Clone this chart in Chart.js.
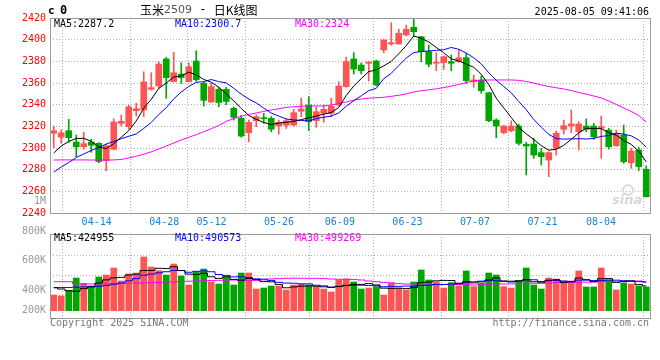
<!DOCTYPE html>
<html><head><meta charset="utf-8">
<script src="https://cdn.jsdelivr.net/npm/chart.js@4.4.1/dist/chart.umd.min.js"></script>
<style>
html,body{margin:0;padding:0;background:#fff;}
#wrap{position:relative;width:660px;height:360px;overflow:hidden;}
canvas{position:absolute;left:0;top:0;}
</style></head><body>
<div id="wrap"><canvas id="main" width="660" height="360"></canvas><canvas id="vol" width="660" height="360"></canvas></div>
<script>
const dates = ["04-10","04-11","04-14","04-15","04-16","04-17","04-18","04-21","04-22","04-23","04-24","04-25","04-28","04-29","04-30","05-06","05-07","05-08","05-09","05-12","05-13","05-14","05-15","05-16","05-19","05-20","05-21","05-22","05-23","05-26","05-27","05-28","05-29","05-30","06-03","06-04","06-05","06-06","06-09","06-10","06-11","06-12","06-13","06-16","06-17","06-18","06-19","06-20","06-23","06-24","06-25","06-26","06-27","06-30","07-01","07-02","07-03","07-04","07-07","07-08","07-09","07-10","07-11","07-14","07-15","07-16","07-17","07-18","07-21","07-22","07-23","07-24","07-25","07-28","07-29","07-30","07-31","08-01","08-04","08-05"];
const tickDates = ["04-14","04-28","05-12","05-26","06-09","06-23","07-07","07-21","08-04"];
const priceTicks = [2240,2260,2280,2300,2320,2340,2360,2380,2400,2420];
const volTickValues = [1000000,800000,600000,400000,200000];
const volTickLabels = ["1M","800K","600K","400K","200K"];

const openP = [2313.6,2310,2316,2305.5,2301.2,2305.5,2304.3,2288.3,2298.8,2322.7,
2319.7,2334.4,2335.1,2354.2,2357.2,2382.2,2361.2,2368.3,2361.2,2380.3,
2359.7,2342.5,2354.2,2354.2,2336.6,2327.5,2314.1,2325.2,2328,2327.4,
2320.3,2321,2321.2,2333.9,2339.7,2325.2,2332,2332,2339.7,2356.6,
2382.2,2376.6,2378.2,2380.3,2390.5,2396,2396,2404.3,2411.4,2402.8,
2388.9,2378.2,2378.8,2379.7,2379.7,2383.4,2361.2,2362.8,2351,2325.8,
2314.1,2316,2320.3,2303.4,2303.7,2295.7,2288.9,2299.7,2317.3,2320.3,
2315,2320.3,2320.3,2318.2,2316.6,2302.1,2312,2286.4,2298.2,2280.3];
const highP = [2320.3,2316.6,2326.5,2312,2314.5,2308,2304.9,2303.4,2327,2330.5,
2339.4,2341.3,2370.4,2369.5,2379.7,2383.7,2388.3,2378.7,2378.7,2389.8,
2361,2359.7,2356,2356,2338,2330,2325.8,2330.5,2332,2329,
2325.8,2327,2335.7,2345.9,2347.4,2338.1,2339.7,2345.9,2361.2,2383.7,
2388,2378.5,2379.7,2381.2,2400.3,2415.7,2409.6,2413.5,2419.7,2403,
2395,2388,2385,2385.8,2390.5,2387.4,2367.4,2366.5,2351.5,2327,
2321,2325,2322,2305.3,2309,2299.7,2296.6,2315.7,2325.8,2335.1,
2324.3,2326.8,2322.8,2329.5,2318.2,2316.6,2321.2,2299.7,2300.6,2283.4];
const lowP = [2300.3,2304.3,2305.3,2292,2298.8,2296,2286.4,2278.8,2298.2,2320.3,
2317.5,2329.5,2328.9,2353.5,2355.1,2345.9,2361,2359.7,2361,2361.5,
2338.8,2341.9,2338,2340,2325.8,2309.9,2305.8,2319.7,2322.8,2315,
2312.8,2318,2320,2328.9,2316,2319.1,2323.7,2328.9,2338.8,2356,
2368.3,2368.3,2361.8,2357.2,2388,2395,2396,2403.4,2402.8,2379.7,
2375,2371.4,2372.6,2371.4,2379,2359.7,2356,2350.5,2324.3,2309.5,
2313,2315,2302.8,2275.1,2290.5,2284.3,2273.5,2293.5,2312.8,2314.1,
2298.2,2315,2308,2290.5,2299,2301.5,2285.9,2281.2,2279.1,2254.7];
const closeP = [2316,2314,2309.5,2301.2,2304,2302.5,2287.5,2302,2324,2324.6,
2338,2336.3,2361,2355.7,2377.5,2365,2369.5,2365,2375,2363,
2344,2356.6,2342,2343,2328.3,2311,2323.7,2328.9,2327,2317.3,
2323.7,2325.2,2332.6,2336,2324.3,2333.5,2335.7,2338.5,2357.2,2379.7,
2372.9,2371.4,2379.4,2358.2,2399.7,2397.2,2405.9,2409.6,2407.4,2388.9,
2377.3,2378.8,2384.3,2378.2,2383.4,2362.1,2362.8,2352.9,2325.2,2320.3,
2320.3,2320.3,2304.3,2301.8,2293.5,2292,2295.7,2313.6,2320.6,2322.2,
2322.2,2317.3,2310.4,2319.7,2301.2,2313.6,2287.4,2297.2,2282.8,2255];

const ma5 = [2295.4,2301.8,2306,2308.8,2309,2306.2,2300.9,2299.4,2304,2310,
2316,2325,2336.8,2345,2355,2360,2365.5,2366.5,2370,2367.5,
2363.3,2360.7,2356.1,2350,2343.5,2336.5,2330,2326.5,2323.5,2321.6,
2323,2323.8,2324.5,2326.2,2327.8,2329.5,2331.2,2332.8,2337.4,2348.5,
2357.2,2364.1,2370.5,2372.2,2375.8,2380,2387,2394.5,2403.4,2401.2,
2397.9,2392.8,2387.8,2382.3,2380.4,2377.4,2374.5,2368,2358.5,2346,
2337,2328.2,2319,2313,2307.8,2302.2,2298,2298.8,2302.5,2308,
2314,2318.2,2318,2317.8,2314.2,2311.8,2306.9,2303.3,2297,2287.2];
const ma10 = [2277.8,2282.5,2286.6,2291.2,2294.5,2297.7,2300.5,2303.7,2306,2308.6,
2310.8,2313,2318.1,2323.6,2330.9,2337.2,2345.4,2351.7,2356.8,2360.6,
2361.2,2363.2,2361.3,2360.1,2355.1,2349.7,2345.2,2341.6,2336.8,2332.2,
2329.5,2326.8,2325.9,2325.4,2325,2327.2,2328.4,2329.4,2332.4,2338.6,
2343.6,2348.2,2352.9,2355.1,2364,2369,2376,2383.1,2388.1,2389.1,
2389.5,2390.2,2390.7,2392.8,2391.1,2387.6,2383.3,2377.6,2369.4,2362.5,
2356.8,2350.9,2342.9,2335.3,2326.3,2319.3,2312.6,2308.7,2308.2,2308.4,
2308.6,2308.3,2308.9,2310.7,2311.5,2313.7,2312.8,2311.2,2307.4,2300.7];
const ma30 = [2288.9,2289,2289,2289,2289,2288.9,2288.9,2288.9,2289,2289.4,
2290.8,2292.4,2294.3,2296.5,2299.1,2301.8,2304.6,2307.4,2309.9,2312.3,
2315,2317.8,2320.8,2324.6,2327.2,2329.3,2330.9,2332.3,2333.8,2335.1,
2336.2,2337.5,2338,2338.5,2338.8,2338.8,2338.8,2339.7,2341.1,2342.5,
2344.3,2345.2,2346,2346.4,2346.8,2347.7,2348.7,2350,2351.7,2352.9,
2353.7,2354.6,2355.8,2357.2,2358.6,2360.4,2361.8,2362.6,2362.8,2362.8,
2362.8,2362.8,2362.5,2361.4,2360,2358.2,2356.8,2355.6,2354.5,2353.1,
2351.2,2349.8,2348,2346.2,2343.4,2340.2,2336.9,2333.7,2330,2324];

const vol = [270000,253000,344000,562000,471000,425000,580000,614000,734000,511000,
631000,648000,924000,752000,688000,614000,803000,597000,442000,666000,
717000,494000,459000,580000,442000,648000,648000,373000,390000,425000,
425000,356000,442000,459000,442000,413000,373000,322000,528000,545000,
494000,373000,390000,413000,270000,471000,390000,356000,494000,700000,
528000,494000,390000,482000,425000,683000,413000,471000,648000,614000,
413000,390000,511000,734000,442000,373000,562000,545000,511000,511000,
683000,408000,408000,734000,528000,356000,476000,459000,425000,408000];
const volMa5 = [396000,373000,344000,334000,380000,411000,476000,530000,565000,573000,
614000,628000,690000,693000,729000,725000,756000,691000,629000,624000,
645000,583000,556000,583000,538000,525000,555000,538000,500000,497000,
452000,394000,408000,421000,425000,422000,426000,402000,416000,436000,
452000,452000,466000,443000,388000,383000,387000,380000,396000,482000,
494000,514000,521000,519000,464000,495000,479000,495000,528000,566000,
512000,507000,515000,532000,498000,490000,524000,531000,487000,500000,
562000,532000,504000,549000,552000,487000,500000,511000,449000,424955];
const volMa10 = [396000,398000,400000,405000,410000,413000,420000,435000,455000,476000,
512500,552000,610000,629000,651000,670000,692000,690000,661000,677000,
685000,670000,623000,606000,581000,585000,569000,547000,542000,518000,
488000,475000,473000,461000,461000,437000,410000,405000,419000,431000,
437000,439000,434000,429000,412000,418000,420000,423000,420000,435000,
439000,451000,451000,458000,473000,494000,497000,508000,523000,515000,
503000,493000,505000,530000,532000,501000,516000,523000,510000,499000,
526000,528000,518000,518000,526000,525000,516000,507000,499000,490573];
const volMa30 = [499000,499000,499000,462000,460000,460000,460000,462000,465000,468000,
471000,474000,478000,482000,487000,492000,497000,502000,507000,511000,
515000,519000,523000,526000,528000,520000,516000,520000,530000,545000,
552000,556000,560000,558000,557000,556000,552000,545000,540000,542000,
537000,528000,510000,499000,485000,480000,466000,458000,460000,461000,
455000,455000,452000,449000,449000,450000,442000,445000,454000,460000,
460000,461000,463000,472000,472000,471000,477000,485000,484000,483000,
489000,491000,491000,502000,510000,507000,509000,513000,511000,499269];

const priceLegend = [["MA5", 2287.2], ["MA10", 2300.7], ["MA30", 2324]];
const volLegend = [["MA5", 424955], ["MA10", 490573], ["MA30", 499269]];

const UP = '#ff5454', DOWN = '#00a600';
const MONO = '"DejaVu Sans Mono", "Liberation Mono", monospace';
const GRID = '#b0b0b0', FRAME = '#9a9a9a';
const colors = closeP.map((c, i) => c >= openP[i] ? UP : DOWN);
const tickIdx = tickDates.map(d => dates.indexOf(d));
const lastTick = tickIdx[tickIdx.length - 1];

function xgAxis(showLabels, h) {
  return {
    type: 'linear', position: 'bottom', min: 0.0263, max: 78.974,
    afterBuildTicks: s => { s.ticks = tickIdx.map(v => ({ value: v })); },
    afterFit: s => { s.height = h; s.paddingLeft = 0; s.paddingRight = 0; },
    grid: {
      drawTicks: false,
      color: c => (c.tick && c.tick.value === lastTick) ? 'rgba(0,0,0,0)' : GRID
    },
    border: { display: false, dash: [1, 2] },
    ticks: {
      display: showLabels, autoSkip: false, maxRotation: 0, minRotation: 0, padding: 3,
      color: '#1882d6', font: { family: MONO, size: 10 },
      callback: v => dates[v] + (v === lastTick ? '   ' : '')
    }
  };
}

const mainDeco = {
  id: 'mainDeco',
  afterDraw(chart) {
    const { ctx, chartArea: a } = chart;
    ctx.save();
    ctx.strokeStyle = FRAME; ctx.lineWidth = 1;
    ctx.strokeRect(Math.round(a.left) + 0.5, Math.round(a.top) + 0.5, Math.round(a.right - a.left), Math.round(a.bottom - a.top));
    ctx.textBaseline = 'middle';
    ctx.fillStyle = '#000';
    ctx.font = 'bold 11px ' + MONO; ctx.fillText('c', 48, 11);
    ctx.font = 'bold 12px ' + MONO; ctx.fillText('0', 60, 11);
    let x = 140;
    const parts = [['玉米', '#000', '12px "Noto Sans CJK SC"'], ['2509', '#555', '11px "DejaVu Sans"'], [' - ', '#000', '12px ' + MONO], ['日K线图', '#000', '12px "Noto Sans CJK SC"']];
    parts.forEach(p => { ctx.font = p[2]; ctx.fillStyle = p[1]; ctx.fillText(p[0], x, 10); x += ctx.measureText(p[0]).width; });
    ctx.font = '10px ' + MONO; ctx.fillStyle = '#000'; ctx.textAlign = 'right';
    ctx.fillText('2025-08-05 09:41:06', 649, 12);
    ctx.textAlign = 'left';
    const lc = ['#000', '#0000ff', '#ff00ff'], lx = [54, 175, 295];
    priceLegend.forEach((l, i) => { ctx.fillStyle = lc[i]; ctx.fillText(l[0] + ':' + l[1], lx[i], 24); });
    ctx.font = 'bold italic 13px "DejaVu Sans"'; ctx.fillStyle = '#d6d6d6';
    ctx.fillText('sina', 612, 201);
    ctx.strokeStyle = '#ecc8c8'; ctx.lineWidth = 1.5;
    ctx.beginPath(); ctx.arc(628, 190, 5, 0, Math.PI * 2); ctx.stroke();
    ctx.restore();
  }
};

const volDeco = {
  id: 'volDeco',
  beforeDatasetsDraw(chart) {
    const { ctx, chartArea: a } = chart;
    ctx.save();
    ctx.strokeStyle = GRID; ctx.lineWidth = 1; ctx.setLineDash([1, 2]);
    [0.25, 0.488, 0.726].forEach(f => {
      const y = Math.round(a.top + f * (a.bottom - a.top)) + 0.5;
      ctx.beginPath(); ctx.moveTo(a.left, y); ctx.lineTo(a.right, y); ctx.stroke();
    });
    ctx.restore();
  },
  afterDraw(chart) {
    const { ctx, chartArea: a } = chart;
    const yl = chart.scales.yl;
    ctx.save();
    ctx.strokeStyle = FRAME; ctx.lineWidth = 1;
    ctx.strokeRect(Math.round(a.left) + 0.5, Math.round(a.top) + 0.5, Math.round(a.right - a.left), Math.round(a.bottom - a.top));
    ctx.textBaseline = 'middle'; ctx.font = '10px ' + MONO;
    const lc = ['#000', '#0000ff', '#ff00ff'], lx = [54, 175, 295];
    volLegend.forEach((l, i) => { ctx.fillStyle = lc[i]; ctx.fillText(l[0] + ':' + l[1], lx[i], 238.5); });
    ctx.fillStyle = '#999'; ctx.textAlign = 'right';
    volTickValues.forEach((v, i) => {
      let y = yl.getPixelForValue(v);
      if (y > a.bottom - 8) y = a.bottom - 8;
      ctx.fillText(volTickLabels[i], 46, y);
    });
    ctx.fillStyle = '#777';
    ctx.fillText('http://finance.sina.com.cn', 649, 323.5);
    ctx.textAlign = 'left';
    ctx.fillText('Copyright 2025 SINA.COM', 50, 323.5);
    ctx.restore();
  }
};

const common = { responsive: false, animation: false, devicePixelRatio: 1,
  plugins: { legend: { display: false }, tooltip: { enabled: false } } };

new Chart(document.getElementById('main'), {
  type: 'bar',
  data: {
    labels: dates,
    datasets: [
      { type: 'line', data: ma5, borderColor: '#000', borderWidth: 1, pointRadius: 0, tension: 0, order: 1 },
      { type: 'line', data: ma10, borderColor: '#0000ff', borderWidth: 1, pointRadius: 0, tension: 0, order: 1 },
      { type: 'line', data: ma30, borderColor: '#ff00ff', borderWidth: 1, pointRadius: 0, tension: 0, order: 1 },
      { data: dates.map((d, i) => [openP[i], closeP[i]]), backgroundColor: colors, barThickness: 6, grouped: false, minBarLength: 1, borderWidth: 0, order: 2 },
      { data: dates.map((d, i) => [lowP[i], highP[i]]), backgroundColor: colors, barThickness: 1, grouped: false, borderWidth: 0, order: 3 }
    ]
  },
  options: Object.assign({}, common, {
    layout: { padding: { top: 18, right: 10, bottom: 0, left: 0 } },
    scales: {
      x: { type: 'category', display: false, offset: true },
      xg: xgAxis(true, 147),
      y: {
        type: 'linear', position: 'left', min: priceTicks[0], max: priceTicks[priceTicks.length - 1],
        afterBuildTicks: s => { s.ticks = priceTicks.map(v => ({ value: v })); },
        afterFit: s => { s.width = 50; s.paddingTop = 0; s.paddingBottom = 0; },
        grid: { drawTicks: false, color: c => (c.tick && (c.tick.value === 2240 || c.tick.value === 2420)) ? 'rgba(0,0,0,0)' : GRID },
        border: { display: false, dash: [1, 2] },
        ticks: { color: '#ff0000', padding: 4, font: { family: MONO, size: 10 }, callback: v => String(v) }
      }
    }
  }),
  plugins: [mainDeco]
});

new Chart(document.getElementById('vol'), {
  type: 'bar',
  data: {
    labels: dates,
    datasets: [
      { type: 'line', data: volMa5, borderColor: '#000', borderWidth: 1, pointRadius: 0, stepped: 'middle', order: 1 },
      { type: 'line', data: volMa10, borderColor: '#0000ff', borderWidth: 1, pointRadius: 0, stepped: 'middle', order: 1 },
      { type: 'line', data: volMa30, borderColor: '#ff00ff', borderWidth: 1, pointRadius: 0, stepped: 'middle', order: 1 },
      { data: vol, backgroundColor: colors, barThickness: 6, borderWidth: 0, order: 2 }
    ]
  },
  options: Object.assign({}, common, {
    layout: { padding: { top: 234, right: 10, bottom: 0, left: 50 } },
    scales: {
      x: { type: 'category', display: false, offset: true },
      xg: xgAxis(false, 42),
      y: { type: 'linear', display: false, min: -125600, max: 1319000 },
      yl: { type: 'linear', display: false, position: 'left', min: 210200, max: 779700 }
    }
  }),
  plugins: [volDeco]
});
</script>
</body></html>
